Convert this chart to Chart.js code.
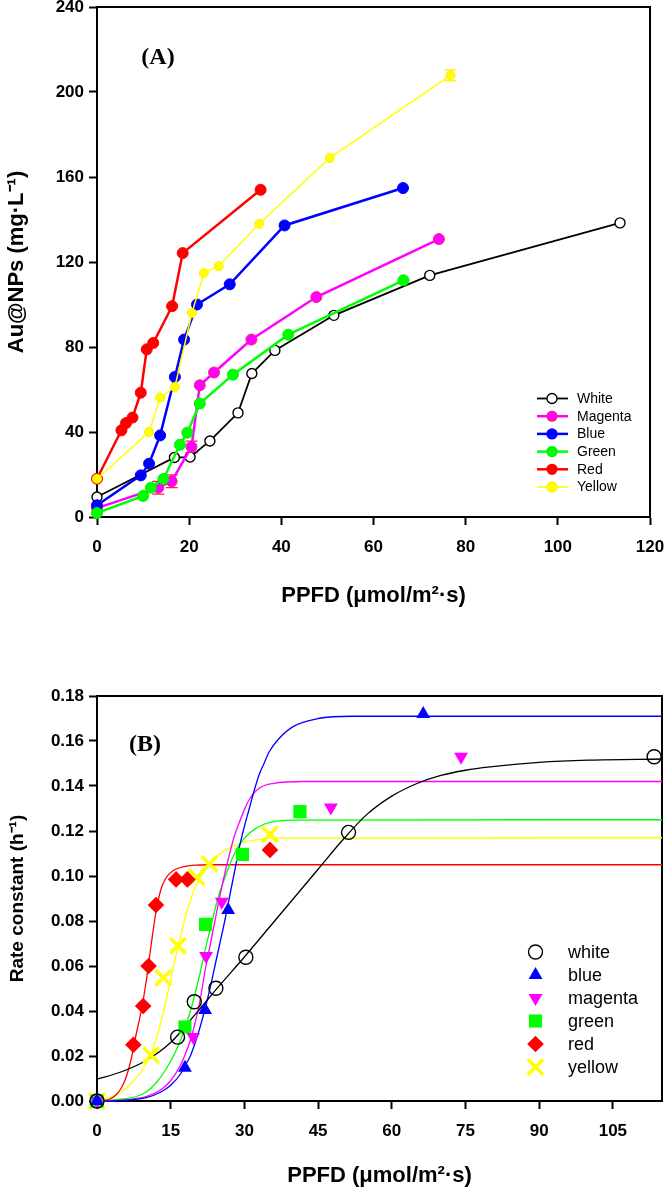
<!DOCTYPE html>
<html><head><meta charset="utf-8">
<script src="https://cdn.jsdelivr.net/npm/chart.js@4.4.0/dist/chart.umd.min.js"></script>
<style>
html,body{margin:0;padding:0;background:#fff;}
#wrap{position:relative;width:666px;height:1190px;overflow:hidden;}
.box{position:absolute;left:0;width:666px;}
</style></head><body>
<div id="wrap">
<div class="box" style="top:0;height:620px"><canvas id="ca" width="666" height="620"></canvas></div>
<div class="box" style="top:620px;height:570px"><canvas id="cb" width="666" height="570"></canvas></div>
</div>
<script>
// ================= Panel A data =================
const xTicksA = [0, 20, 40, 60, 80, 100, 120];
const yTicksA = [0, 40, 80, 120, 160, 200, 240];
const namesA = ['White', 'Magenta', 'Blue', 'Green', 'Red', 'Yellow'];

const whiteAx   = [0, 16.8, 20.2, 24.5, 30.6, 33.6, 38.6, 51.4, 72.2, 113.5];
const whiteAy   = [9.4, 28, 28.2, 35.8, 49, 67.5, 78.4, 94.9, 113.7, 138.4];
const magentaAx = [0, 13.3, 16.2, 20.5, 22.3, 25.4, 33.5, 47.6, 74.2];
const magentaAy = [4.2, 13.8, 16.8, 33, 62, 68, 83.5, 103.5, 130.8];
const magentaAerr = [0, 3, 3, 2.7, 0, 0, 0, 0, 0];
const blueAx    = [0, 9.5, 11.3, 13.7, 16.9, 18.9, 21.7, 28.8, 40.7, 66.4];
const blueAy    = [5.5, 19.6, 25.1, 38.4, 65.9, 83.5, 100, 109.5, 137.2, 154.8];
const greenAx   = [0, 10, 11.7, 14.4, 18, 19.6, 22.3, 29.5, 41.5, 66.5];
const greenAy   = [1.9, 9.9, 13.8, 17.9, 34, 39.7, 53.4, 67, 85.8, 111.4];
const redAx     = [0, 5.3, 6.3, 7.7, 9.5, 10.8, 12.2, 16.3, 18.6, 35.5];
const redAy     = [18, 40.8, 44.2, 46.8, 58.5, 78.9, 81.9, 99.2, 124.2, 154];
const yellowAx  = [0, 11.3, 13.7, 16.9, 20.6, 23.2, 26.4, 35.2, 50.5, 76.7];
const yellowAy  = [18, 40, 56.2, 61.2, 96, 114.8, 118, 138, 169, 207.8];
const yellowAerr = [0, 0, 0, 0, 0, 0, 0, 0, 0, 2.6];

// ================= Panel B data =================
const xTicksB = [0, 15, 30, 45, 60, 75, 90, 105];
const yTicksB = [0, 0.02, 0.04, 0.06, 0.08, 0.10, 0.12, 0.14, 0.16, 0.18];
const namesB = ['white', 'blue', 'magenta', 'green', 'red', 'yellow'];

const whiteBx   = [0, 16.4, 19.8, 24.2, 30.3, 51.2, 113.4];
const whiteBy   = [0, 0.0284, 0.0441, 0.0501, 0.0639, 0.1194, 0.153];
const blueBx    = [0, 17.9, 22, 26.7, 66.4];
const blueBy    = [0, 0.0148, 0.0405, 0.0849, 0.172];
const magentaBx = [0, 19.6, 22.2, 25.4, 47.6, 74.1];
const magentaBy = [0, 0.0284, 0.0644, 0.0886, 0.1305, 0.153];
const greenBx   = [0, 17.9, 22.1, 29.6, 41.3];
const greenBy   = [0, 0.0329, 0.0785, 0.1096, 0.1286];
const redBx     = [0, 7.4, 9.4, 10.5, 12, 16.1, 18.4, 35.2];
const redBy     = [0, 0.0250, 0.0422, 0.060, 0.0871, 0.0985, 0.0985, 0.1116];
const yellowBx  = [0, 11, 13.5, 16.5, 20.3, 22.9, 35.2];
const yellowBy  = [0, 0.0203, 0.0548, 0.069, 0.0994, 0.1053, 0.1185];

// fitted curves
const whiteFitX   = [0, 5, 10, 15, 20, 25, 30, 35, 40, 45, 50, 55, 60, 65, 70, 75, 80, 90, 100, 115];
const whiteFitY   = [0.0097, 0.013, 0.018, 0.026, 0.0385, 0.0515, 0.064, 0.077, 0.090, 0.103, 0.116, 0.1275, 0.1355, 0.141, 0.1447, 0.147, 0.1485, 0.1505, 0.1515, 0.152];
const blueFitX    = [0, 5, 10, 13, 15, 17, 18, 19, 20, 21, 22, 23, 24, 25, 26, 27, 28, 29, 30, 31, 32, 33, 34, 35, 37, 40, 45, 52, 115];
const blueFitY    = [0, 0.0003, 0.0015, 0.004, 0.007, 0.012, 0.016, 0.020, 0.026, 0.033, 0.041, 0.050, 0.060, 0.070, 0.080, 0.091, 0.102, 0.113, 0.122, 0.130, 0.138, 0.145, 0.150, 0.155, 0.161, 0.1665, 0.170, 0.171, 0.171];
const magentaFitX = [0, 5, 10, 13, 15, 17, 18, 19, 20, 21, 22, 23, 24, 25, 26, 27, 28, 29, 30, 31, 33, 36, 42, 115];
const magentaFitY = [0, 0.0004, 0.002, 0.005, 0.009, 0.016, 0.021, 0.027, 0.035, 0.045, 0.058, 0.069, 0.080, 0.091, 0.101, 0.110, 0.118, 0.124, 0.1295, 0.134, 0.139, 0.1412, 0.142, 0.142];
const greenFitX   = [0, 5, 8, 10, 12, 14, 16, 17, 18, 19, 20, 21, 22, 23, 24, 25, 26, 27, 28, 29, 31, 34, 40, 115];
const greenFitY   = [0, 0.0008, 0.002, 0.004, 0.008, 0.014, 0.022, 0.027, 0.033, 0.040, 0.048, 0.057, 0.067, 0.076, 0.085, 0.093, 0.099, 0.105, 0.110, 0.114, 0.119, 0.123, 0.1248, 0.125];
const redFitX     = [0, 2, 3, 4, 5, 6, 7, 8, 9, 10, 11, 12, 13, 14, 15, 16, 18, 20, 25, 115];
const redFitY     = [0, 0.0005, 0.0013, 0.003, 0.006, 0.011, 0.019, 0.030, 0.040, 0.053, 0.069, 0.084, 0.094, 0.099, 0.1015, 0.103, 0.1043, 0.1048, 0.105, 0.105];
const yellowFitX  = [0, 3, 5, 7, 9, 11, 12, 13, 14, 15, 16, 17, 18, 19, 20, 22, 24, 27, 31, 36, 115];
const yellowFitY  = [0.0005, 0.002, 0.004, 0.008, 0.013, 0.021, 0.027, 0.035, 0.044, 0.054, 0.064, 0.073, 0.082, 0.089, 0.095, 0.1025, 0.108, 0.1125, 0.1155, 0.1168, 0.117];

// ================= helpers =================
const SANS = "'Liberation Sans', Arial, Helvetica, sans-serif";
const SERIF = "'Liberation Serif', 'Times New Roman', serif";
const pts = (xs, ys) => xs.map((x, i) => ({x: x, y: ys[i]}));

const frame = {
  id: 'frame',
  beforeDatasetsDraw(chart) {
    const a = chart.chartArea, c = chart.ctx;
    c.save(); c.strokeStyle = '#000'; c.lineWidth = 2;
    c.strokeRect(a.left, a.top, a.right - a.left, a.bottom - a.top);
    c.restore();
  }
};

function panelLabel(text, x, y) {
  return { id: 'panel' + text, afterDraw(chart) {
    const c = chart.ctx; c.save();
    c.font = 'bold 24px ' + SERIF; c.fillStyle = '#000';
    c.textAlign = 'center'; c.textBaseline = 'middle';
    c.fillText(text, x, y); c.restore();
  }};
}

const errorBars = {
  id: 'errorBars',
  beforeDatasetsDraw(chart) {
    const c = chart.ctx, xs = chart.scales.x, ys = chart.scales.y;
    chart.data.datasets.forEach(ds => {
      if (!ds.errs) return;
      c.save(); c.strokeStyle = ds.errColor; c.lineWidth = 1.3;
      ds.data.forEach((p, j) => {
        const e = ds.errs[j]; if (!e) return;
        const px = xs.getPixelForValue(p.x);
        const y1 = ys.getPixelForValue(p.y + e), y2 = ys.getPixelForValue(p.y - e);
        c.beginPath();
        c.moveTo(px, y1); c.lineTo(px, y2);
        c.moveTo(px - 6, y1); c.lineTo(px + 6, y1);
        c.moveTo(px - 6, y2); c.lineTo(px + 6, y2);
        c.stroke();
      });
      c.restore();
    });
  }
};

const legendA = {
  id: 'legendA',
  afterDraw(chart) {
    const c = chart.ctx; c.save();
    c.font = '14px ' + SANS; c.textBaseline = 'middle'; c.textAlign = 'left';
    chart.data.datasets.forEach((ds, i) => {
      const y = 398.5 + i * 17.7;
      c.strokeStyle = ds.borderColor; c.lineWidth = ds.borderWidth;
      c.beginPath(); c.moveTo(537, y); c.lineTo(568, y); c.stroke();
      c.beginPath(); c.arc(552, y, 5, 0, Math.PI * 2);
      c.fillStyle = ds.pointBackgroundColor; c.fill();
      c.lineWidth = 1.3; c.strokeStyle = ds.pointBorderColor; c.stroke();
      c.fillStyle = '#000'; c.fillText(ds.label, 577, y + 0.5);
    });
    c.restore();
  }
};

function symbol(c, style, x, y, r, fill, stroke, lw, rot) {
  c.save(); c.beginPath();
  if (style === 'circle') { c.arc(x, y, r, 0, Math.PI * 2); }
  else if (style === 'triangle') {
    const s = rot ? -1 : 1;
    c.moveTo(x, y - s * r); c.lineTo(x + r * 0.866, y + s * r / 2); c.lineTo(x - r * 0.866, y + s * r / 2); c.closePath();
  } else if (style === 'rect') { const h = r * Math.SQRT1_2; c.rect(x - h, y - h, 2 * h, 2 * h); }
  else if (style === 'rectRot') { c.moveTo(x - r, y); c.lineTo(x, y - r); c.lineTo(x + r, y); c.lineTo(x, y + r); c.closePath(); }
  else if (style === 'crossRot') { const h = r * Math.SQRT1_2; c.moveTo(x - h, y - h); c.lineTo(x + h, y + h); c.moveTo(x + h, y - h); c.lineTo(x - h, y + h); }
  if (style !== 'crossRot' && fill) { c.fillStyle = fill; c.fill(); }
  if (lw) { c.lineWidth = lw; c.strokeStyle = stroke; c.stroke(); }
  c.restore();
}

const legendB = {
  id: 'legendB',
  afterDraw(chart) {
    const c = chart.ctx; c.save();
    c.font = '18px ' + SANS; c.textBaseline = 'middle'; c.textAlign = 'left'; 
    chart.data.datasets.filter(d => d.isMarker).forEach((ds, i) => {
      const y = 332 + i * 23;
      symbol(c, ds.pointStyle, 535.5, y, ds.pointRadius, ds.pointBackgroundColor, ds.pointBorderColor, ds.pointBorderWidth, ds.pointRotation);
      c.fillStyle = '#000'; c.fillText(ds.label, 568, y + 1);
    });
    c.restore();
  }
};

function axisCommon() {
  return {
    grid: { display: true, drawOnChartArea: false, drawTicks: true, tickLength: 8, tickColor: '#000', tickWidth: 2 },
    border: { display: true, color: '#000', width: 2 },
  };
}
const fitX = h => s => { s.height = h; s.paddingLeft = 0; s.paddingRight = 0; };
const fitY = w => s => { s.width = w; s.paddingTop = 0; s.paddingBottom = 0; };

// ================= Chart A =================
const colsA = {
  White:   {line: '#000000', fill: '#ffffff', edge: '#000000', lw: 1.8, r: 5},
  Magenta: {line: '#ff00ff', fill: '#ff00ff', edge: '#ff2277', lw: 2.5, r: 5.5},
  Blue:    {line: '#0000ff', fill: '#0000ff', edge: '#0000ff', lw: 2.5, r: 5.5},
  Green:   {line: '#00ff00', fill: '#00ff00', edge: '#00ee00', lw: 2.5, r: 5.5},
  Red:     {line: '#ff0000', fill: '#ff0000', edge: '#ff0000', lw: 2.5, r: 5.5},
  Yellow:  {line: '#ffff00', fill: '#ffff00', edge: '#ffee00', lw: 1.5, r: 4.5}
};
const dataA = {
  White: pts(whiteAx, whiteAy), Magenta: pts(magentaAx, magentaAy), Blue: pts(blueAx, blueAy),
  Green: pts(greenAx, greenAy), Red: pts(redAx, redAy), Yellow: pts(yellowAx, yellowAy)
};
const dsA = namesA.map((n, i) => {
  const s = colsA[n];
  const d = {
    label: n, data: dataA[n], showLine: true, borderColor: s.line, borderWidth: s.lw,
    pointBackgroundColor: s.fill, pointBorderColor: s.edge, pointBorderWidth: n === 'White' ? 1.4 : 1,
    pointRadius: s.r, pointStyle: 'circle', clip: false, order: namesA.length - i, tension: 0
  };
  if (n === 'Magenta') { d.errs = magentaAerr; d.errColor = '#ee2255'; }
  if (n === 'Yellow') { d.errs = yellowAerr; d.errColor = '#ffee00'; }
  return d;
});

new Chart(document.getElementById('ca'), {
  type: 'scatter',
  data: { datasets: dsA },
  options: {
    responsive: false, animation: false, events: [],
    layout: { autoPadding: false, padding: { top: 7, right: 16, left: 0, bottom: 0 } },
    plugins: { legend: { display: false }, tooltip: { enabled: false } },
    scales: {
      x: Object.assign(axisCommon(), {
        type: 'linear', min: 0, max: 120,
        afterBuildTicks: s => { s.ticks = xTicksA.map(v => ({value: v})); },
        afterFit: fitX(103),
        ticks: { color: '#000', font: { family: SANS, size: 17, weight: 'bold' }, padding: 12, maxRotation: 0 },
        title: { display: true, text: 'PPFD (μmol/m²·s)', color: '#000', font: { family: SANS, size: 22, weight: 'bold' }, padding: { top: 0, bottom: 11 } }
      }),
      y: Object.assign(axisCommon(), {
        type: 'linear', min: 0, max: 240,
        afterBuildTicks: s => { s.ticks = yTicksA.map(v => ({value: v})); },
        afterFit: fitY(97),
        ticks: { color: '#000', font: { family: SANS, size: 17, weight: 'bold' }, padding: 5 },
        title: { display: true, text: 'Au@NPs (mg·L⁻¹)', color: '#000', font: { family: SANS, size: 22, weight: 'bold' }, padding: { top: 4, bottom: 0 } }
      })
    }
  },
  plugins: [frame, errorBars, legendA, panelLabel('(A)', 158, 58)]
});

// ================= Chart B =================
const markB = {
  white:   {style: 'circle',   r: 7,   fill: 'rgba(0,0,0,0)', edge: '#000000', bw: 1.4, rot: 0},
  blue:    {style: 'triangle', r: 8,   fill: '#0000ff', edge: '#0000ff', bw: 0, rot: 0},
  magenta: {style: 'triangle', r: 8,   fill: '#ff00ff', edge: '#ff00ff', bw: 0, rot: 180},
  green:   {style: 'rect',     r: 9.3, fill: '#00ff00', edge: '#00ff00', bw: 0, rot: 0},
  red:     {style: 'rectRot',  r: 8.3, fill: '#ff0000', edge: '#ff0000', bw: 0, rot: 0},
  yellow:  {style: 'crossRot', r: 11,  fill: '#ffff00', edge: '#ffff00', bw: 3.5, rot: 0}
};
const dataB = {
  white: pts(whiteBx, whiteBy), blue: pts(blueBx, blueBy), magenta: pts(magentaBx, magentaBy),
  green: pts(greenBx, greenBy), red: pts(redBx, redBy), yellow: pts(yellowBx, yellowBy)
};
const fitB = {
  white: pts(whiteFitX, whiteFitY), blue: pts(blueFitX, blueFitY), magenta: pts(magentaFitX, magentaFitY),
  green: pts(greenFitX, greenFitY), red: pts(redFitX, redFitY), yellow: pts(yellowFitX, yellowFitY)
};
const lineColB = { white: '#000000', blue: '#0000ff', magenta: '#ff00ff', green: '#00ff00', red: '#ff0000', yellow: '#ffff00' };

const markerDs = namesB.map(n => {
  const m = markB[n];
  return {
    label: n, isMarker: true, data: dataB[n], showLine: false, clip: false,
    pointStyle: m.style, pointRadius: m.r, pointBackgroundColor: m.fill, pointBorderColor: m.edge,
    pointBorderWidth: m.bw, pointRotation: m.rot
  };
});
const fitDs = namesB.map(n => ({
  label: n + ' fit', data: fitB[n], showLine: true, pointRadius: 0, borderColor: lineColB[n],
  borderWidth: 1.3, cubicInterpolationMode: 'monotone', clip: false
}));

new Chart(document.getElementById('cb'), {
  type: 'scatter',
  data: { datasets: markerDs.concat(fitDs) },
  options: {
    responsive: false, animation: false, events: [],
    layout: { autoPadding: false, padding: { top: 76, right: 4, left: 0, bottom: 0 } },
    plugins: { legend: { display: false }, tooltip: { enabled: false } },
    scales: {
      x: Object.assign(axisCommon(), {
        type: 'linear', min: 0, max: 115,
        afterBuildTicks: s => { s.ticks = xTicksB.map(v => ({value: v})); },
        afterFit: fitX(89),
        ticks: { color: '#000', font: { family: SANS, size: 17, weight: 'bold' }, padding: 12, maxRotation: 0 },
        title: { display: true, text: 'PPFD (μmol/m²·s)', color: '#000', font: { family: SANS, size: 22, weight: 'bold' }, padding: { top: 0, bottom: 1 } }
      }),
      y: Object.assign(axisCommon(), {
        type: 'linear', min: 0, max: 0.18,
        afterBuildTicks: s => { s.ticks = yTicksB.map(v => ({value: v})); },
        afterFit: fitY(97),
        ticks: { color: '#000', font: { family: SANS, size: 17, weight: 'bold' }, padding: 5, callback: v => Number(v).toFixed(2) },
        title: { display: true, text: 'Rate constant (h⁻¹)', color: '#000', font: { family: SANS, size: 19, weight: 'bold' }, padding: { top: 6, bottom: 0 } }
      })
    }
  },
  plugins: [frame, legendB, panelLabel('(B)', 145, 125)]
});
</script>
</body></html>
